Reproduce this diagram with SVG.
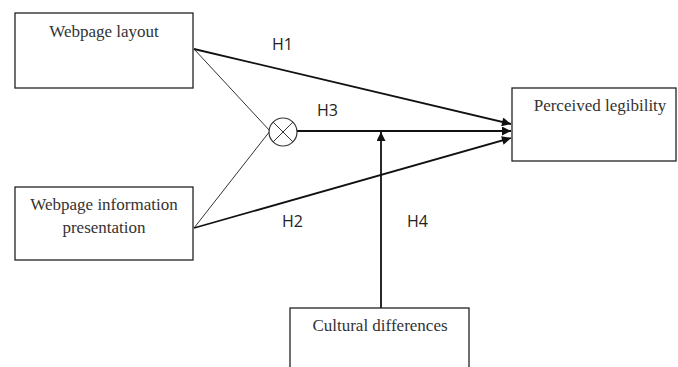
<svg xmlns="http://www.w3.org/2000/svg" width="678" height="367" viewBox="0 0 678 367">
<style>
.box{fill:#fff;stroke:#222;stroke-width:1.3}
.t{font-family:"Liberation Serif",serif;font-size:17px;fill:#333;text-anchor:middle}
.h{font-family:"Open Sans","Liberation Sans",sans-serif;font-size:16px;fill:#222}
.thin{stroke:#333;stroke-width:1;fill:none}
.thick{stroke:#111;stroke-width:1.8;fill:none}
</style>
<defs>
<marker id="ah2" viewBox="0 0 10 10" refX="10" refY="5" markerWidth="10" markerHeight="9" markerUnits="userSpaceOnUse" orient="auto">
<path d="M0,0 L10,5 L0,10 z" fill="#111"/>
</marker>
</defs>
<g id="connectors">
<line class="thin" x1="194" y1="49" x2="270" y2="131"/>
<line class="thin" x1="194" y1="228" x2="270" y2="131"/>
<line class="thick" x1="194" y1="49" x2="511" y2="124" marker-end="url(#ah2)"/>
<line class="thick" x1="297" y1="131" x2="511" y2="131" marker-end="url(#ah2)"/>
<line class="thick" x1="194" y1="228" x2="511" y2="138" marker-end="url(#ah2)"/>
<line class="thick" x1="381" y1="308" x2="381" y2="132" marker-end="url(#ah2)"/>
<text class="h" x="272" y="50">H1</text>
<text class="h" x="317" y="116">H3</text>
<text class="h" x="282" y="227">H2</text>
<text class="h" x="407" y="227">H4</text>
</g>
<g id="interaction">
<circle cx="283" cy="132" r="14" fill="#fff" stroke="#333" stroke-width="1.2"/>
<line class="thin" x1="273.1" y1="122.1" x2="292.9" y2="141.9"/>
<line class="thin" x1="292.9" y1="122.1" x2="273.1" y2="141.9"/>
</g>
<g id="layout">
<rect class="box" x="15" y="13" width="178" height="75"/>
<text class="t" x="104" y="37">Webpage layout</text>
</g>
<g id="presentation">
<rect class="box" x="15" y="187" width="178" height="73"/>
<text class="t" x="104" y="210">Webpage information</text>
<text class="t" x="104" y="233">presentation</text>
</g>
<g id="legibility">
<rect class="box" x="512" y="88" width="164" height="73"/>
<text class="t" x="600" y="111">Perceived legibility</text>
</g>
<g id="cultural">
<rect class="box" x="290" y="308" width="179" height="70"/>
<text class="t" x="380" y="331">Cultural differences</text>
</g>
</svg>
